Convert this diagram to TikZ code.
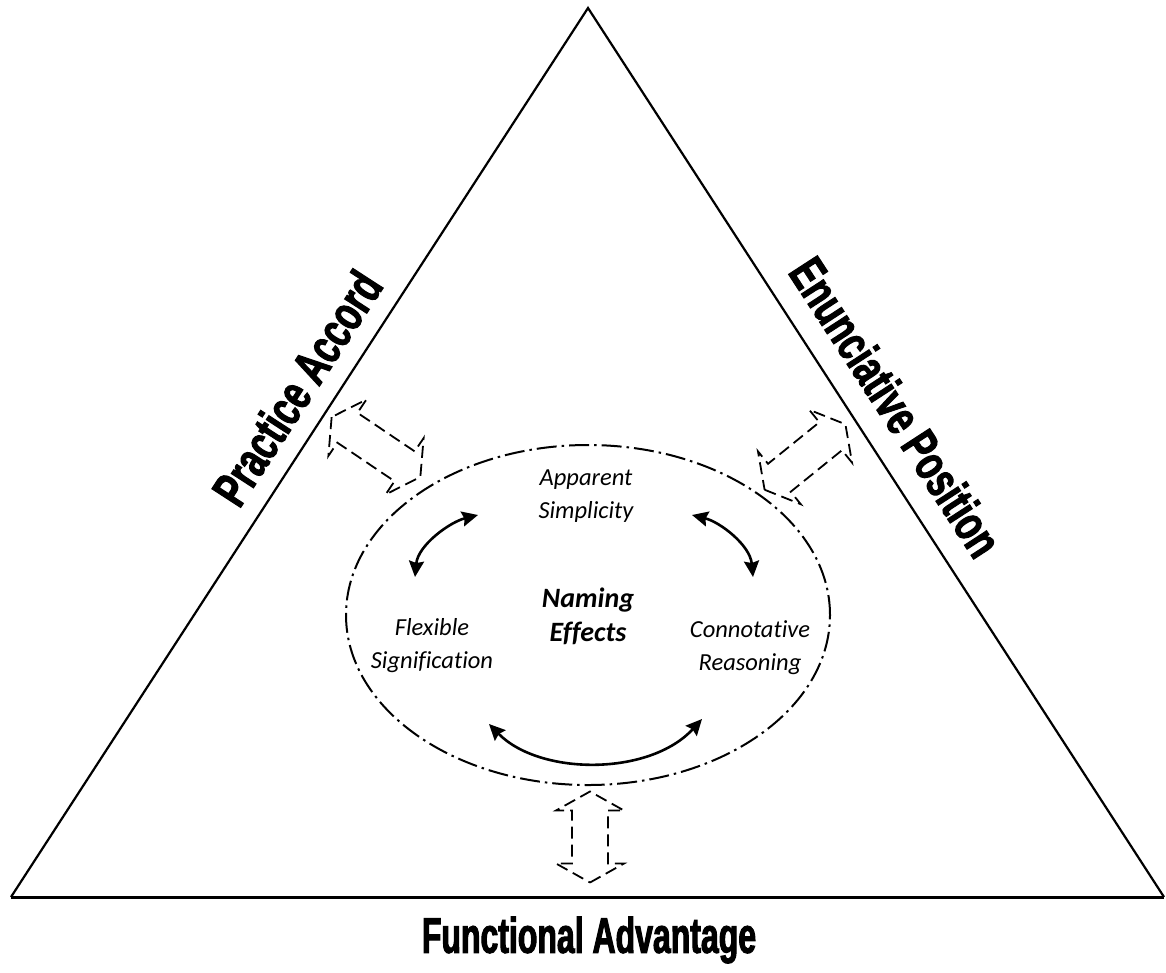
\documentclass[tikz,border=0pt]{standalone}
\usepackage{fontspec}
\setmainfont{Carlito}[Ligatures=NoCommon]
\newfontfamily\sidefont[FakeStretch=0.70,FakeBold=2]{Liberation Sans}
\newfontfamily\basefont[FakeStretch=0.64,FakeBold=2]{Liberation Sans}
\usetikzlibrary{arrows.meta}
\newcommand{\hollowdbl}[3]{%
  \begin{scope}[shift={#1},rotate=#2]
    \draw[hollow] ({-0.5*#3},0) -- ({-0.5*#3+19},34) -- ({-0.5*#3+19},18)
      -- ({0.5*#3-19},18) -- ({0.5*#3-19},34) -- ({0.5*#3},0)
      -- ({0.5*#3-19},-34) -- ({0.5*#3-19},-18) -- ({-0.5*#3+19},-18)
      -- ({-0.5*#3+19},-34) -- cycle;
  \end{scope}}
\tikzset{
  tri/.style={line width=2.2pt, line join=miter},
  basel/.style={line width=3pt},
  ring/.style={line width=2pt, dash pattern=on 20pt off 5pt on 2.5pt off 5pt},
  hollow/.style={line width=1.8pt, dash pattern=on 12pt off 6pt, line join=miter},
  twoway/.style={line width=2.6pt,
    {Stealth[length=16pt,width=15pt,inset=2pt]}-{Stealth[length=16pt,width=15pt,inset=2pt]}},
  lab/.style={font=\itshape\fontsize{24.5}{33}\selectfont, align=center, inner sep=0pt},
  cen/.style={font=\bfseries\itshape\fontsize{28}{34}\selectfont, align=center, inner sep=0pt},
  side/.style={font=\sidefont\bfseries\fontsize{50}{56}\selectfont, inner sep=0pt},
  basetext/.style={font=\basefont\bfseries\fontsize{50}{56}\selectfont, inner sep=0pt},
}
\begin{document}
\begin{tikzpicture}[x=1pt,y=-1pt]
\useasboundingbox (0,0) rectangle (1166,972);
% triangle
\coordinate (apex) at (588,8);
\coordinate (bl) at (11,897);
\coordinate (br) at (1164,897);
\draw[tri] (bl) -- (apex) -- (br);
\draw[basel] (bl) -- (br);
% ellipse
\coordinate (ec) at (588,615);
\draw[ring] (ec) ellipse [x radius=242pt, y radius=170pt];
% hollow dashed double arrows
\hollowdbl{(376,447)}{-34}{107}
\hollowdbl{(805,457)}{39}{104}
\hollowdbl{(590,837)}{90}{91}
% inner texts
\node[lab] (as) at (586,496) {Apparent\\Simplicity};
\node[lab] (fs) at (432,646) {Flexible\\Signification};
\node[lab] (cr) at (750,648) {Connotative\\Reasoning};
\node[cen] (ne) at (588,616) {Naming\\Effects};
% curved arrows
\coordinate (l1) at (478,515);
\coordinate (l2) at (415,577);
\coordinate (r1) at (692,515);
\coordinate (r2) at (753,577);
\coordinate (b1) at (489,724);
\coordinate (b2) at (702,719);
\draw[twoway] (l1) .. controls (450,522) and (418,545) .. (l2);
\draw[twoway] (r1) .. controls (720,522) and (750,545) .. (r2);
\draw[twoway] (b1) .. controls (540,776) and (650,776) .. (b2);
% side labels
\node[side, rotate=57] (pa) at (297,388) {Practice Accord};
\node[side, rotate=-57] (ep) at (896,407) {Enunciative Position};
\node[basetext] (fa) at (589,940) {Functional Advantage};
\end{tikzpicture}
\end{document}
